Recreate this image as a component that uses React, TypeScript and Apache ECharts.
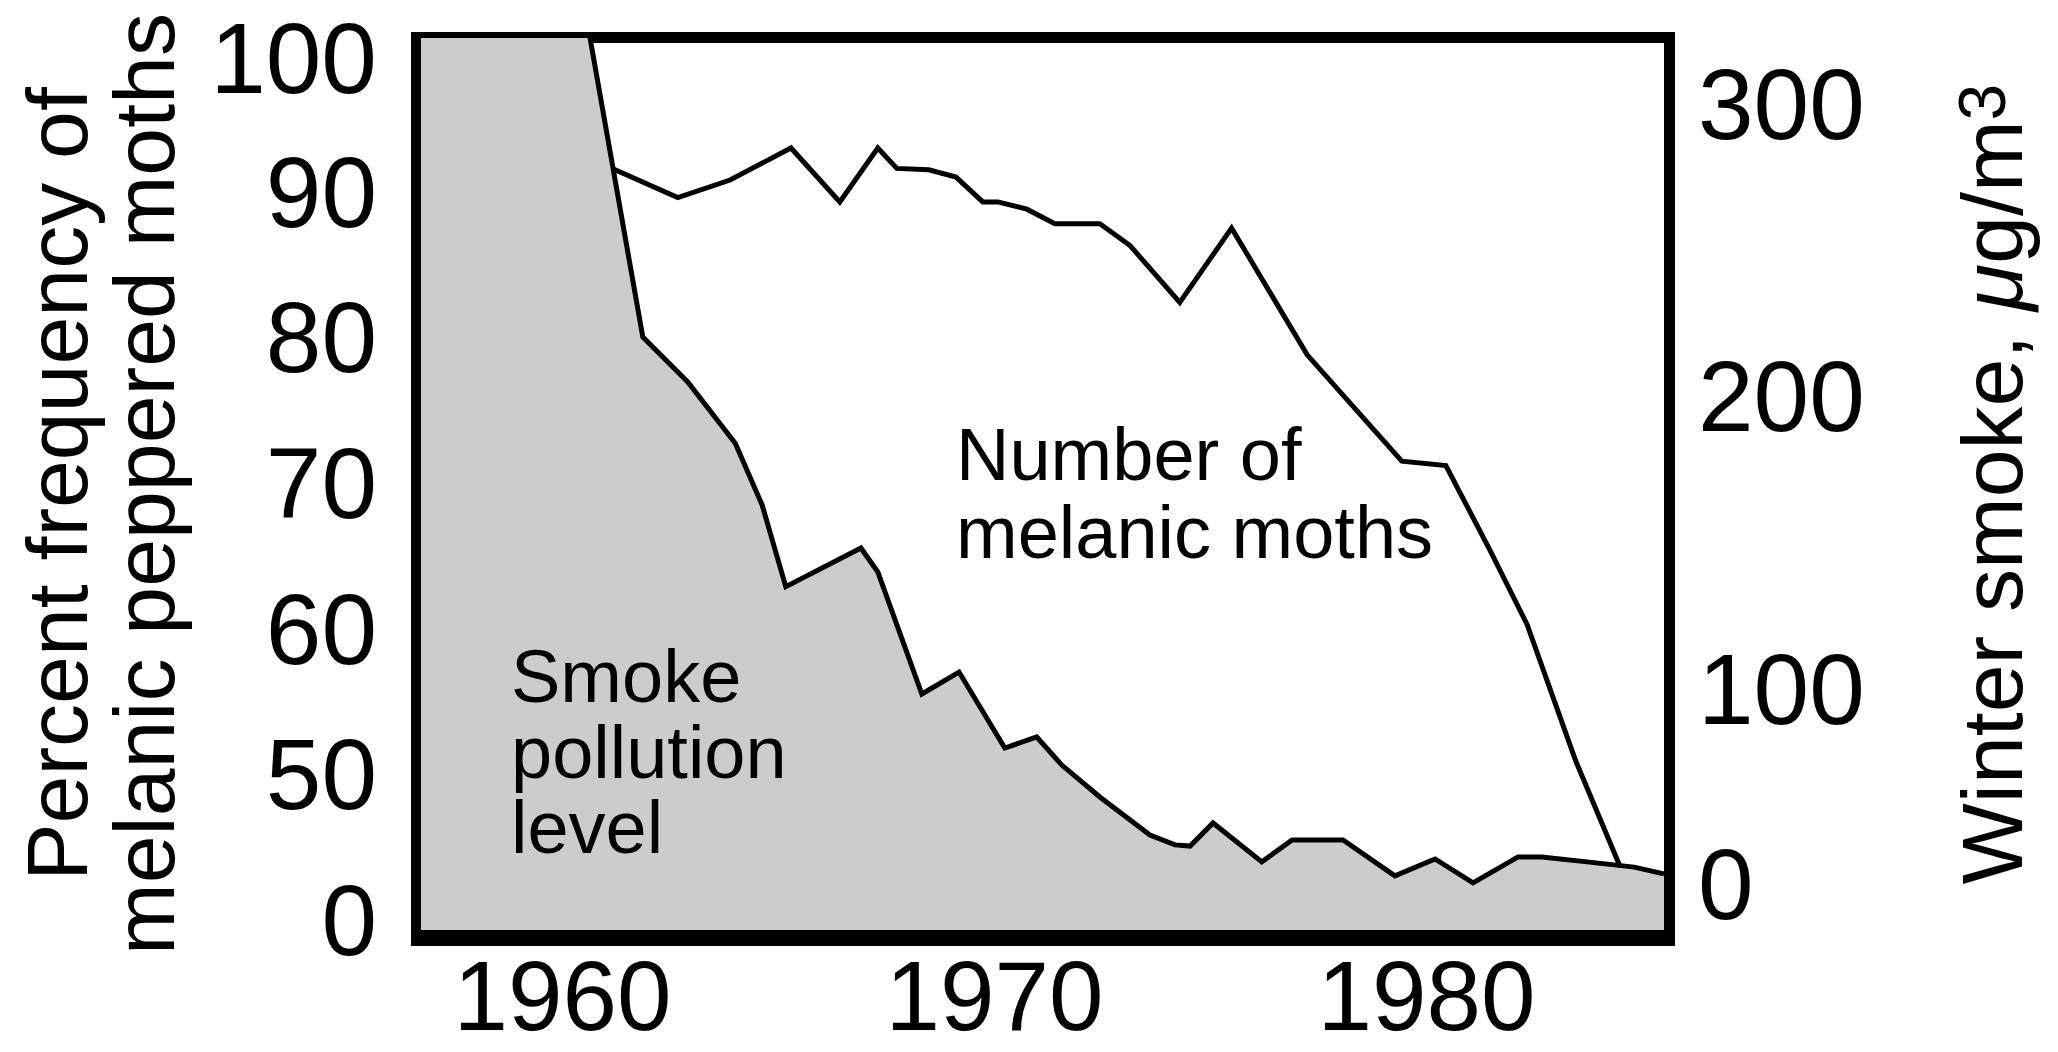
import React, { useEffect, useRef } from 'react';
import * as echarts from 'echarts';

// ---- data ----
const yearTicks = [1960, 1970, 1980];

// Frequency of melanic moths (left axis, %)
const mothYears = [1960, 1962.67, 1963.88, 1965.29, 1966.42, 1967.3, 1967.74, 1968.48, 1969.11, 1969.73, 1970.08, 1970.75, 1971.4, 1972.44, 1973.14, 1974.29, 1975.49, 1977.24, 1979.43, 1980.45, 1981.47, 1982.33, 1983.46, 1984.48];
const mothPercent = [93.1, 89.6, 90.8, 93.0, 89.3, 93.0, 91.6, 91.5, 91.0, 89.3, 89.3, 88.8, 87.8, 87.8, 86.3, 82.4, 87.5, 78.8, 71.5, 71.2, 65.4, 60.3, 50.9, 43.7];

// Winter smoke (right axis, ug/m3)
const smokeYears = [1956, 1960, 1961.86, 1962.9, 1964.0, 1964.62, 1965.17, 1966.91, 1967.3, 1968.32, 1969.18, 1970.24, 1970.98, 1971.56, 1972.44, 1973.6, 1974.18, 1974.53, 1975.06, 1976.19, 1976.89, 1978.07, 1979.27, 1980.2, 1981.08, 1982.12, 1982.67, 1983.72, 1984.81, 1985.5];
const smokeLevel = [380, 376, 220.3, 205, 184, 163, 135, 148.2, 140, 98.3, 105.8, 79.8, 83.6, 74, 63.1, 50.1, 46.7, 46.3, 54.2, 40.9, 48.4, 48.4, 36.1, 41.9, 33.7, 42.6, 42.6, 40.9, 39.1, 36.8];

// tick labels (both axes are broken near zero in the original)
const mothTickValues = [40, 50, 60, 70, 80, 90, 100];
const mothTickLabels = ['0', '50', '60', '70', '80', '90', '100'];
const smokeTickValues = [33.3, 100, 200, 300];
const smokeTickLabels = ['0', '100', '200', '300'];

const leftTitle = 'Percent frequency of\nmelanic peppered moths';
const mothNote = 'Number of\nmelanic moths';
const smokeNote = 'Smoke\npollution\nlevel';

const FONT = '"Liberation Sans", Arial, Helvetica, sans-serif';

function pickLabel(values: number[], labels: string[], nudgeTop = false) {
  const top = Math.max(...values);
  return (v: number) => {
    const i = values.findIndex((t) => Math.abs(t - v) < 1e-6);
    if (i < 0) return '';
    // the top label sits against the page edge: nudge it down a little
    if (nudgeTop && Math.abs(v - top) < 1e-6) return '{edge|' + labels[i] + '}';
    return labels[i];
  };
}

export default function App() {
  const ref = useRef<HTMLDivElement>(null);

  useEffect(() => {
    if (!ref.current) return;
    const chart = echarts.init(ref.current, null, { renderer: 'svg' });

    const option: any = {
      animation: false,
      backgroundColor: '#ffffff',
      grid: {
        left: 421,
        top: 38,
        right: 394,
        bottom: 122,
        containLabel: false,
        outerBoundsMode: 'none',
      },
      xAxis: {
        type: 'value',
        min: 1956.725,
        max: 1985.5,
        axisLine: { show: false },
        axisTick: { show: false },
        splitLine: { show: false },
        axisLabel: {
          customValues: yearTicks,
          formatter: (v: number) => String(v),
          fontSize: 98,
          lineHeight: 74,
          fontFamily: FONT,
          color: '#000',
          margin: 66,
          verticalAlign: 'middle',
        },
      },
      yAxis: [
        {
          type: 'value',
          position: 'left',
          min: 39.32,
          max: 100.55,
          axisLine: { show: false },
          axisTick: { show: false },
          splitLine: { show: false },
          axisLabel: {
            customValues: mothTickValues,
            formatter: pickLabel(mothTickValues, mothTickLabels, true),
            fontSize: 100,
            lineHeight: 78,
            fontFamily: FONT,
            color: '#000',
            margin: 44,
            rich: {
              edge: { fontSize: 100, fontFamily: FONT, color: '#000', padding: [24, 0, 0, 0] },
            },
          },
          name: leftTitle,
          nameLocation: 'middle',
          nameRotate: 90,
          nameGap: 234,
          nameMoveOverlap: false,
          nameTextStyle: {
            fontSize: 86,
            lineHeight: 87,
            fontFamily: FONT,
            color: '#000',
          },
        },
        {
          type: 'value',
          position: 'right',
          min: 17.61,
          max: 322.56,
          axisLine: { show: false },
          axisTick: { show: false },
          splitLine: { show: false },
          axisLabel: {
            customValues: smokeTickValues,
            formatter: pickLabel(smokeTickValues, smokeTickLabels),
            fontSize: 100,
            lineHeight: 78,
            fontFamily: FONT,
            color: '#000',
            margin: 34,
          },
          name: '{t|Winter smoke, }{mu|\u03bc}{t|g/m}{sup|3}',
          nameLocation: 'middle',
          nameRotate: 90,
          nameGap: 285,
          nameMoveOverlap: false,
          nameTextStyle: {
            fontSize: 86,
            lineHeight: 86,
            fontFamily: FONT,
            color: '#000',
            rich: {
              t: { fontSize: 86, lineHeight: 86, fontFamily: FONT, color: '#000', verticalAlign: 'top' },
              mu: { fontSize: 86, lineHeight: 86, fontFamily: FONT, color: '#000', fontStyle: 'italic', verticalAlign: 'top' },
              sup: { fontSize: 66, lineHeight: 62, fontFamily: FONT, color: '#000', verticalAlign: 'top' },
            },
          },
        },
      ],
      series: [
        {
          name: 'Number of melanic moths',
          type: 'line',
          yAxisIndex: 0,
          data: mothYears.map((y, i) => [y, mothPercent[i]]),
          symbol: 'none',
          showSymbol: false,
          silent: true,
          z: 2,
          lineStyle: { color: '#000', width: 5, join: 'miter' },
        },
        {
          name: 'Smoke pollution level',
          type: 'line',
          yAxisIndex: 1,
          data: smokeYears.map((y, i) => [y, smokeLevel[i]]),
          symbol: 'none',
          showSymbol: false,
          silent: true,
          z: 3,
          lineStyle: { color: '#000', width: 5, join: 'miter' },
          areaStyle: { color: '#cccccc', opacity: 1, origin: 'start' },
        },
      ],
      graphic: [
        // frame: top border (under the fill), then the other borders on top
        { type: 'rect', z: 0, silent: true, shape: { x: 411, y: 32, width: 1264, height: 11 }, style: { fill: '#000' } },
        { type: 'rect', z: 100, silent: true, shape: { x: 411, y: 32, width: 1264, height: 6 }, style: { fill: '#000' } },
        { type: 'rect', z: 100, silent: true, shape: { x: 411, y: 32, width: 10, height: 914 }, style: { fill: '#000' } },
        { type: 'rect', z: 100, silent: true, shape: { x: 1664, y: 32, width: 11, height: 914 }, style: { fill: '#000' } },
        { type: 'rect', z: 100, silent: true, shape: { x: 411, y: 930, width: 1264, height: 16 }, style: { fill: '#000' } },
        {
          type: 'text',
          z: 100,
          silent: true,
          x: 956,
          y: 493,
          style: {
            text: mothNote,
            fontSize: 74,
            fontFamily: FONT,
            lineHeight: 78,
            fill: '#000',
            align: 'left',
            textAlign: 'left',
            verticalAlign: 'middle',
            textVerticalAlign: 'middle',
          },
        },
        {
          type: 'text',
          z: 100,
          silent: true,
          x: 511,
          y: 752,
          style: {
            text: smokeNote,
            fontSize: 74,
            fontFamily: FONT,
            lineHeight: 75.5,
            fill: '#000',
            align: 'left',
            textAlign: 'left',
            verticalAlign: 'middle',
            textVerticalAlign: 'middle',
          },
        },
      ],
    };

    chart.setOption(option);
    return () => {
      chart.dispose();
    };
  }, []);

  return (
    <div
      ref={ref}
      style={{ position: 'fixed', left: 0, top: 0, width: 2058, height: 1052, background: '#fff' }}
    />
  );
}
